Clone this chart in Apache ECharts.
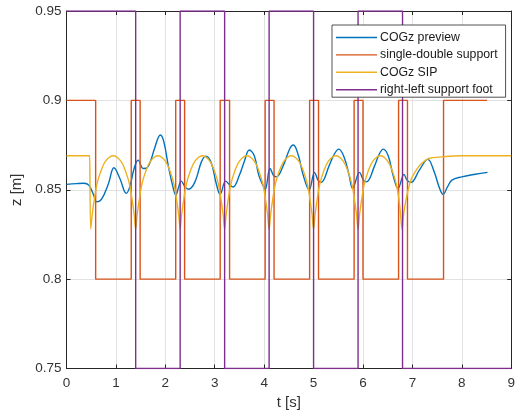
<!DOCTYPE html>
<html>
<head>
<meta charset="utf-8">
<script src="https://cdn.jsdelivr.net/npm/echarts@6/dist/echarts.min.js"></script>
<style>
  html, body { margin: 0; padding: 0; background: #fff; }
  #chart { width: 518px; height: 416px; }
</style>
</head>
<body>
<div id="chart"></div>
<script>
// Axis ticks
const tTicks = [0, 1, 2, 3, 4, 5, 6, 7, 8, 9];
const zTicks = [0.75, 0.8, 0.85, 0.9, 0.95];

// COGz preview (time [s], height [m])
const previewT = [0.00, 0.20, 0.35, 0.45, 0.55, 0.61, 0.71, 0.85, 0.96, 1.08,
  1.21, 1.28, 1.37, 1.45, 1.55, 1.61, 1.70, 1.78, 1.90, 1.97,
  2.07, 2.17, 2.21, 2.27, 2.32, 2.40, 2.47, 2.60, 2.73, 2.82,
  2.93, 3.03, 3.11, 3.22, 3.30, 3.37, 3.50, 3.60, 3.70, 3.80,
  3.89, 3.99, 4.02, 4.12, 4.19, 4.25, 4.39, 4.52, 4.59, 4.69,
  4.79, 4.91, 5.02, 5.09, 5.15, 5.32, 5.42, 5.51, 5.62, 5.72,
  5.79, 5.93, 6.01, 6.07, 6.24, 6.33, 6.41, 6.51, 6.61, 6.71,
  6.83, 6.89, 6.97, 7.14, 7.31, 7.44, 7.54, 7.62, 7.71, 7.80,
  8.00, 8.27, 8.52];
const previewZ = [0.8530, 0.8534, 0.8536, 0.8526, 0.8470, 0.8432, 0.8447, 0.8535, 0.8623, 0.8563,
  0.8480, 0.8516, 0.8620, 0.8666, 0.8619, 0.8620, 0.8660, 0.8730, 0.8806, 0.8768,
  0.8619, 0.8498, 0.8470, 0.8516, 0.8548, 0.8516, 0.8503, 0.8544, 0.8656, 0.8688,
  0.8650, 0.8535, 0.8474, 0.8548, 0.8528, 0.8515, 0.8582, 0.8660, 0.8722, 0.8690,
  0.8582, 0.8516, 0.8500, 0.8619, 0.8580, 0.8572, 0.8638, 0.8731, 0.8750, 0.8694,
  0.8582, 0.8500, 0.8597, 0.8554, 0.8541, 0.8638, 0.8700, 0.8727, 0.8680, 0.8580,
  0.8507, 0.8597, 0.8554, 0.8544, 0.8638, 0.8700, 0.8727, 0.8690, 0.8580, 0.8507,
  0.8586, 0.8554, 0.8541, 0.8610, 0.8670, 0.8601, 0.8516, 0.8475, 0.8516, 0.8554,
  0.8572, 0.8587, 0.8597];

// Single / double support phase switches
const supportT = [0, 0.59, 1.31, 1.49, 2.21, 2.39, 3.11, 3.30, 4.02, 4.20,
  4.92, 5.10, 5.82, 6.00, 6.72, 6.90, 7.63, 8.51];
const supportZ = [0.9, 0.8, 0.9, 0.8, 0.9, 0.8, 0.9, 0.8, 0.9, 0.8,
  0.9, 0.8, 0.9, 0.8, 0.9, 0.8, 0.9, 0.9];

// COGz of the simple inverted pendulum
const sipT = [0.00, 0.47, 0.48, 0.49,
  0.52, 0.56, 0.61, 0.69, 0.79, 0.945, 1.10, 1.20, 1.28, 1.33, 1.37, 1.40,
  1.43, 1.47, 1.52, 1.60, 1.70, 1.85, 2.00, 2.10, 2.18, 2.23, 2.27, 2.30,
  2.33, 2.37, 2.42, 2.50, 2.60, 2.75, 2.90, 3.00, 3.08, 3.13, 3.17, 3.20,
  3.23, 3.27, 3.32, 3.40, 3.50, 3.65, 3.80, 3.90, 3.98, 4.03, 4.07, 4.10,
  4.13, 4.17, 4.22, 4.30, 4.40, 4.55, 4.70, 4.80, 4.88, 4.93, 4.97, 5.00,
  5.03, 5.07, 5.12, 5.20, 5.30, 5.45, 5.60, 5.70, 5.78, 5.83, 5.87, 5.90,
  5.93, 5.97, 6.02, 6.10, 6.20, 6.35, 6.50, 6.60, 6.68, 6.73, 6.76, 6.79,
  6.82, 6.87, 6.97, 7.10, 7.20, 7.33, 7.60, 8.00, 9.00];
const sipZ = [0.869, 0.869, 0.869, 0.828,
  0.836, 0.844, 0.8525, 0.860, 0.866, 0.869, 0.866, 0.860, 0.8525, 0.844, 0.836, 0.828,
  0.836, 0.844, 0.8525, 0.860, 0.866, 0.869, 0.866, 0.860, 0.8525, 0.844, 0.836, 0.828,
  0.836, 0.844, 0.8525, 0.860, 0.866, 0.869, 0.866, 0.860, 0.8525, 0.844, 0.836, 0.828,
  0.836, 0.844, 0.8525, 0.860, 0.866, 0.869, 0.866, 0.860, 0.8525, 0.844, 0.836, 0.828,
  0.836, 0.844, 0.8525, 0.860, 0.866, 0.869, 0.866, 0.860, 0.8525, 0.844, 0.836, 0.828,
  0.836, 0.844, 0.8525, 0.860, 0.866, 0.869, 0.866, 0.860, 0.8525, 0.844, 0.836, 0.828,
  0.836, 0.844, 0.8525, 0.860, 0.866, 0.869, 0.866, 0.860, 0.8525, 0.844, 0.836, 0.828,
  0.836, 0.8442, 0.8554, 0.8619, 0.8651, 0.8675, 0.8684, 0.869, 0.869];

// Right / left support foot switches
const footT = [0, 1.40, 2.30, 3.20, 4.10, 5.00, 5.90, 6.80, 9.00];
const footZ = [0.95, 0.75, 0.95, 0.75, 0.95, 0.75, 0.95, 0.75, 0.75];

const zip = (xs, ys) => xs.map((x, i) => [x, ys[i]]);

const AXIS = '#262626';
const GRIDC = '#e2e2e2';
const FONT = '"Liberation Sans", Arial, Helvetica, sans-serif';

const tMin = tTicks[0], tMax = tTicks[tTicks.length - 1];
const zMin = zTicks[0], zMax = zTicks[zTicks.length - 1];

const chart = echarts.init(document.getElementById('chart'), null, { renderer: 'canvas' });

chart.setOption({
  animation: false,
  backgroundColor: '#ffffff',
  textStyle: { fontFamily: FONT },
  grid: { left: 66.5, right: 1.5, top: 11, bottom: 47.5, containLabel: false },
  legend: {
    orient: 'vertical',
    left: 332,
    top: 25,
    padding: [5.5, 8, 0.5, 4],
    itemGap: 3.4,
    itemWidth: 41,
    itemHeight: 1.4,
    icon: 'rect',
    borderColor: AXIS,
    borderWidth: 0.8,
    borderRadius: 0,
    backgroundColor: '#ffffff',
    textStyle: { fontSize: 12.3, lineHeight: 14, color: '#1a1a1a', fontFamily: FONT, padding: [0, 0, 0, -2] },
    data: ['COGz preview', 'single-double support', 'COGz SIP', 'right-left support foot']
  },
  xAxis: [{
    type: 'value', min: tMin, max: tMax, interval: 1,
    name: 't [s]', nameLocation: 'middle', nameGap: 25,
    nameTextStyle: { fontSize: 15, color: '#333', fontFamily: FONT },
    axisLine: { show: true, onZero: false, lineStyle: { color: AXIS, width: 1 } },
    axisTick: { show: true, inside: true, length: 4, lineStyle: { color: AXIS } },
    axisLabel: { fontSize: 13.5, color: '#333', margin: 8, fontFamily: FONT },
    splitLine: { show: true, lineStyle: { color: GRIDC, width: 1 } }
  }, {
    type: 'value', position: 'top', min: tMin, max: tMax, interval: 1,
    axisLine: { show: true, onZero: false, lineStyle: { color: AXIS, width: 1 } },
    axisTick: { show: true, inside: true, length: 4, lineStyle: { color: AXIS } },
    axisLabel: { show: false },
    splitLine: { show: false }
  }],
  yAxis: [{
    type: 'value', min: zMin, max: zMax, interval: 0.05,
    name: 'z [m]', nameLocation: 'middle', nameGap: 31,
    nameTextStyle: { fontSize: 15, color: '#333', fontFamily: FONT },
    axisLine: { show: true, onZero: false, lineStyle: { color: AXIS, width: 1 } },
    axisTick: { show: true, inside: true, length: 4, lineStyle: { color: AXIS } },
    axisLabel: { fontSize: 13.5, color: '#333', margin: 5, fontFamily: FONT },
    splitLine: { show: true, lineStyle: { color: GRIDC, width: 1 } }
  }, {
    type: 'value', position: 'right', min: zMin, max: zMax, interval: 0.05,
    axisLine: { show: true, onZero: false, lineStyle: { color: AXIS, width: 1 } },
    axisTick: { show: true, inside: true, length: 4, lineStyle: { color: AXIS } },
    axisLabel: { show: false },
    splitLine: { show: false }
  }],
  series: [{
    name: 'COGz preview', type: 'line', xAxisIndex: 0, yAxisIndex: 0,
    data: zip(previewT, previewZ),
    smooth: 0.4, showSymbol: false, symbol: 'none',
    lineStyle: { color: '#0072BD', width: 1.4 },
    itemStyle: { color: '#0072BD' }
  }, {
    name: 'single-double support', type: 'line', xAxisIndex: 0, yAxisIndex: 0,
    data: zip(supportT, supportZ),
    step: 'end', showSymbol: false, symbol: 'none',
    lineStyle: { color: '#D95319', width: 1.4 },
    itemStyle: { color: '#D95319' }
  }, {
    name: 'COGz SIP', type: 'line', xAxisIndex: 0, yAxisIndex: 0,
    data: zip(sipT, sipZ),
    smooth: 0.35, showSymbol: false, symbol: 'none',
    lineStyle: { color: '#EDB120', width: 1.4 },
    itemStyle: { color: '#EDB120' }
  }, {
    name: 'right-left support foot', type: 'line', xAxisIndex: 0, yAxisIndex: 0,
    data: zip(footT, footZ),
    step: 'end', showSymbol: false, symbol: 'none',
    lineStyle: { color: '#7E2F8E', width: 1.4 },
    itemStyle: { color: '#7E2F8E' }
  }]
});
</script>
</body>
</html>
